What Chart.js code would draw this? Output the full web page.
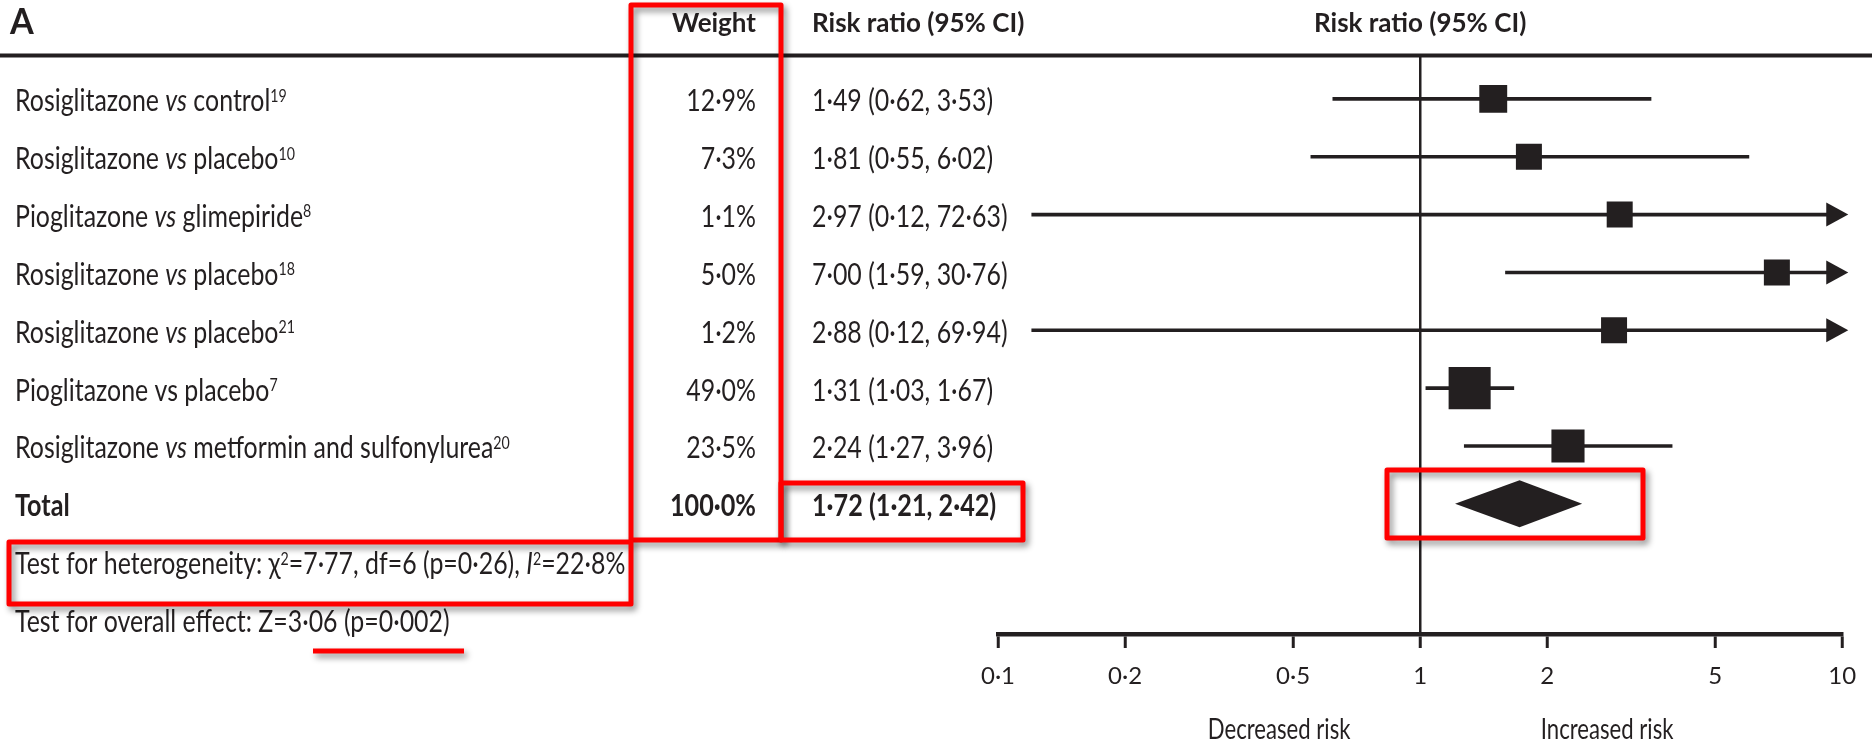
<!DOCTYPE html>
<html>
<head>
<meta charset="utf-8">
<script src="https://cdn.jsdelivr.net/npm/chart.js@4.4.1/dist/chart.umd.min.js"></script>
<style>
  html, body { margin: 0; padding: 0; background: #ffffff; }
  canvas { display: block; }
</style>
</head>
<body>
<canvas id="forest" width="1872" height="744"></canvas>
<script>
// ---- study data ----
const treatments  = ['Rosiglitazone', 'Rosiglitazone', 'Pioglitazone', 'Rosiglitazone', 'Rosiglitazone', 'Pioglitazone', 'Rosiglitazone'];
const comparators = ['control', 'placebo', 'glimepiride', 'placebo', 'placebo', 'placebo', 'metformin and sulfonylurea'];
const references  = ['19', '10', '8', '18', '21', '7', '20'];
const vsItalic    = [true, true, true, true, true, false, true];
const weights     = [12.9, 7.3, 1.1, 5.0, 1.2, 49.0, 23.5];
const riskRatios  = [1.49, 1.81, 2.97, 7.00, 2.88, 1.31, 2.24];
const lowerCI     = [0.62, 0.55, 0.12, 1.59, 0.12, 1.03, 1.27];
const upperCI     = [3.53, 6.02, 72.63, 30.76, 69.94, 1.67, 3.96];

// pooled estimate: [risk ratio, lower, upper] and its weight
const pooledEstimate = [1.72, 1.21, 2.42];
const pooledWeight = 100.0;
// heterogeneity: [chi-squared, df, p, I-squared %]
const heterogeneityStats = [7.77, 6, 0.26, 22.8];
// overall effect: [Z, p]
const overallEffect = [3.06, 0.002];

const tickValues = [0.1, 0.2, 0.5, 1, 2, 5, 10];
const tickLabels = ['0·1', '0·2', '0·5', '1', '2', '5', '10'];

// ---- styling ----
const INK = '#231f20';
const RED = '#ff0000';
const FAMILY = 'Lato, "Open Sans", "DejaVu Sans", sans-serif';
const BODY = { size: 30, squeeze: 0.83 };
const BODY_BOLD = { size: 30, squeeze: 0.84, bold: true };
const HEAD = { size: 26, squeeze: 1.0, bold: true };
const X_MIN = 0.1, X_MAX = 10;

const fmt = (v, d) => v.toFixed(d).replace('.', '·');

function squareSide(w) {
  return Math.max(26, 13 + 4.15 * Math.sqrt(w));
}

function fontFor(run, style) {
  const size = run.sup ? style.size * 0.57 : style.size;
  const bold = run.bold !== undefined ? run.bold : style.bold;
  return (run.italic ? 'italic ' : '') + (bold ? '700 ' : '400 ') + size + 'px ' + FAMILY;
}

// draw a line of text made of runs (plain, italic, superscript), horizontally condensed
function drawRuns(ctx, runs, x, y, style, align) {
  const sq = style.squeeze;
  let total = 0;
  const widths = runs.map(r => {
    ctx.font = fontFor(r, style);
    const w = ctx.measureText(r.t).width * sq;
    total += w;
    return w;
  });
  let cx = align === 'right' ? x - total : align === 'center' ? x - total / 2 : x;
  ctx.textAlign = 'left';
  ctx.textBaseline = 'alphabetic';
  ctx.fillStyle = INK;
  runs.forEach((r, i) => {
    ctx.font = fontFor(r, style);
    ctx.save();
    ctx.translate(cx, r.sup ? y - style.size * 0.32 : y);
    ctx.scale(sq, 1);
    ctx.fillText(r.t, 0, 0);
    ctx.restore();
    cx += widths[i];
  });
}

const forestDecor = {
  id: 'forestDecor',
  beforeDatasetsDraw(chart) {
    const ctx = chart.ctx;
    const top = chart.chartArea.top;
    ctx.save();
    ctx.strokeStyle = INK;
    ctx.lineWidth = 4;
    ctx.beginPath();
    ctx.moveTo(0, top);
    ctx.lineTo(chart.width, top);
    ctx.stroke();
    ctx.restore();
  },
  afterDatasetsDraw(chart) {
    const ctx = chart.ctx;
    const xs = chart.scales.x, ys = chart.scales.y;
    ctx.save();
    ctx.fillStyle = INK;
    // arrowheads for intervals running past the axis
    upperCI.forEach((u, i) => {
      if (u <= X_MAX) return;
      const tip = xs.getPixelForValue(X_MAX) + 6;
      const y = ys.getPixelForValue(i);
      ctx.beginPath();
      ctx.moveTo(tip, y);
      ctx.lineTo(tip - 22, y - 12);
      ctx.lineTo(tip - 22, y + 12);
      ctx.closePath();
      ctx.fill();
    });
    // pooled diamond
    const yT = ys.getPixelForValue(riskRatios.length);
    const xl = xs.getPixelForValue(pooledEstimate[1]);
    const xm = xs.getPixelForValue(pooledEstimate[0]);
    const xr = xs.getPixelForValue(pooledEstimate[2]);
    ctx.beginPath();
    ctx.moveTo(xl, yT);
    ctx.lineTo(xm, yT - 23.5);
    ctx.lineTo(xr, yT);
    ctx.lineTo(xm, yT + 23.5);
    ctx.closePath();
    ctx.fill();
    ctx.restore();
  },
  afterDraw(chart) {
    const ctx = chart.ctx;
    const xs = chart.scales.x, ys = chart.scales.y;
    const base = i => ys.getPixelForValue(i) + 12.5;
    const LABEL_X = 15, WEIGHT_R = 756, CI_X = 812;
    ctx.save();

    // headers
    drawRuns(ctx, [{ t: 'A' }], 10, 34, { size: 36, squeeze: 0.95, bold: true }, 'left');
    drawRuns(ctx, [{ t: 'Weight' }], WEIGHT_R, 32, HEAD, 'right');
    drawRuns(ctx, [{ t: 'Risk ratio (95% CI)' }], CI_X, 32, HEAD, 'left');
    drawRuns(ctx, [{ t: 'Risk ratio (95% CI)' }], xs.getPixelForValue(1), 32, HEAD, 'center');

    // study rows
    treatments.forEach((tr, i) => {
      const y = base(i);
      drawRuns(ctx, [
        { t: tr + ' ' },
        { t: 'vs', italic: vsItalic[i] },
        { t: ' ' + comparators[i] },
        { t: references[i], sup: true }
      ], LABEL_X, y, BODY, 'left');
      drawRuns(ctx, [{ t: fmt(weights[i], 1) + '%' }], WEIGHT_R, y, BODY, 'right');
      drawRuns(ctx, [{ t: fmt(riskRatios[i], 2) + ' (' + fmt(lowerCI[i], 2) + ', ' + fmt(upperCI[i], 2) + ')' }], CI_X, y, BODY, 'left');
    });

    // total row
    const n = treatments.length;
    drawRuns(ctx, [{ t: 'Total' }], LABEL_X, base(n), BODY_BOLD, 'left');
    drawRuns(ctx, [{ t: fmt(pooledWeight, 1) + '%' }], WEIGHT_R, base(n), BODY_BOLD, 'right');
    drawRuns(ctx, [{ t: fmt(pooledEstimate[0], 2) + ' (' + fmt(pooledEstimate[1], 2) + ', ' + fmt(pooledEstimate[2], 2) + ')' }], CI_X, base(n), BODY_BOLD, 'left');

    // test statistics
    const [chi2, df, pHet, i2] = heterogeneityStats;
    drawRuns(ctx, [
      { t: 'Test for heterogeneity: χ' }, { t: '2', sup: true },
      { t: '=' + fmt(chi2, 2) + ', df=' + df + ' (p=' + fmt(pHet, 2) + '), ' },
      { t: 'I', italic: true }, { t: '2', sup: true },
      { t: '=' + fmt(i2, 1) + '%' }
    ], LABEL_X, base(n + 1), BODY, 'left');
    drawRuns(ctx, [{ t: 'Test for overall effect: Z=' + fmt(overallEffect[0], 2) + ' (p=' + fmt(overallEffect[1], 3) + ')' }],
      LABEL_X, base(n + 2), BODY, 'left');

    // direction labels under the axis
    const dirStyle = { size: 28, squeeze: 0.79 };
    drawRuns(ctx, [{ t: 'Decreased risk' }], xs.getPixelForValue(1) - 141, 739, dirStyle, 'center');
    drawRuns(ctx, [{ t: 'Increased risk' }], xs.getPixelForValue(1) + 187, 739, dirStyle, 'center');

    // red highlight marks
    ctx.strokeStyle = RED;
    ctx.lineWidth = 5;
    ctx.lineJoin = 'round';
    ctx.shadowColor = 'rgba(0,0,0,0.45)';
    ctx.shadowBlur = 6;
    ctx.shadowOffsetX = 3;
    ctx.shadowOffsetY = 4;
    [[631, 5, 150, 535], [781, 483, 242, 57], [9, 542, 622, 62], [1387, 470, 256, 68]].forEach(r => {
      ctx.strokeRect(r[0], r[1], r[2], r[3]);
    });
    ctx.beginPath();
    ctx.moveTo(313, 651);
    ctx.lineTo(464, 651);
    ctx.stroke();
    ctx.restore();
  }
};

function build() {
  const ciSets = treatments.map((_, i) => ({
    type: 'line',
    data: [{ x: lowerCI[i], y: i }, { x: upperCI[i], y: i }],
    borderColor: INK,
    borderWidth: 3.6,
    pointRadius: 0,
    pointHoverRadius: 0,
    order: 1
  }));

  new Chart(document.getElementById('forest'), {
    type: 'scatter',
    data: {
      datasets: [{
        type: 'scatter',
        data: riskRatios.map((v, i) => ({ x: v, y: i })),
        pointStyle: 'rect',
        pointRadius: weights.map(w => squareSide(w) / Math.SQRT2),
        pointHoverRadius: weights.map(w => squareSide(w) / Math.SQRT2),
        backgroundColor: INK,
        borderWidth: 0,
        order: 0
      }].concat(ciSets)
    },
    options: {
      responsive: false,
      animation: false,
      devicePixelRatio: 1,
      events: [],
      layout: { padding: { left: 998, right: 26, top: 55.5, bottom: 0 } },
      plugins: { legend: { display: false }, tooltip: { enabled: false }, title: { display: false } },
      scales: {
        x: {
          type: 'logarithmic',
          position: 'bottom',
          min: X_MIN,
          max: X_MAX,
          afterBuildTicks: s => { s.ticks = tickValues.map(v => ({ value: v })); },
          afterFit: s => { s.height = 110; },
          ticks: {
            autoSkip: false,
            maxRotation: 0,
            padding: 14,
            color: INK,
            font: { family: FAMILY, size: 24 },
            callback: (v, i) => tickLabels[i]
          },
          grid: {
            drawOnChartArea: true,
            color: c => (c.tick && c.tick.value === 1) ? INK : 'rgba(0,0,0,0)',
            lineWidth: 2.5,
            drawTicks: true,
            tickLength: 14,
            tickWidth: 3,
            tickColor: INK
          },
          border: { display: true, color: INK, width: 4.5 }
        },
        y: {
          type: 'linear',
          display: false,
          reverse: true,
          min: -0.75,
          max: 9.25
        }
      }
    },
    plugins: [forestDecor]
  });
}

const fontsReady = document.fonts ? Promise.all([
  document.fonts.load('400 30px Lato'),
  document.fonts.load('700 30px Lato'),
  document.fonts.load('italic 400 30px Lato')
]).catch(() => null) : Promise.resolve();
fontsReady.then(build);
</script>
</body>
</html>
